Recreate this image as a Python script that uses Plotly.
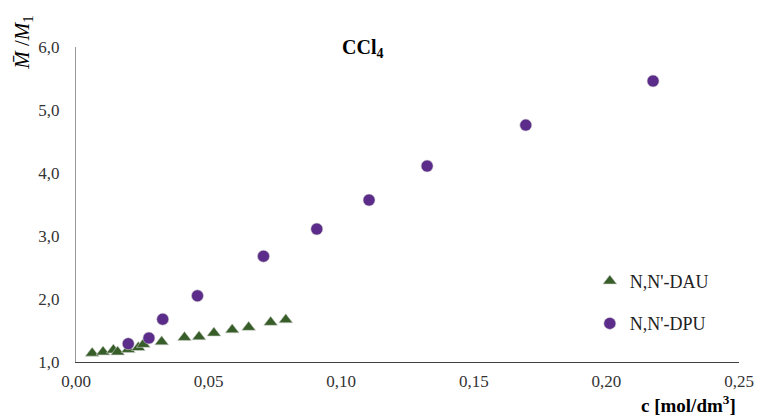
import plotly.graph_objects as go

dau_c = [0.0061, 0.0102, 0.0141, 0.0157, 0.0197, 0.0235, 0.0254, 0.0323, 0.0409,
         0.0464, 0.0520, 0.0589, 0.0651, 0.0734, 0.0791]
dau_m = [1.14, 1.16, 1.19, 1.16, 1.20, 1.23, 1.28, 1.32, 1.39,
         1.40, 1.46, 1.51, 1.55, 1.63, 1.67]
dpu_c = [0.0197, 0.0275, 0.0327, 0.0458, 0.0707, 0.0908, 0.1105, 0.1324, 0.1696, 0.2176]
dpu_m = [1.29, 1.38, 1.68, 2.05, 2.68, 3.11, 3.57, 4.11, 4.76, 5.46]

serif = "Liberation Serif"

fig = go.Figure()
fig.add_trace(go.Scatter(x=dau_c, y=dau_m, mode="markers", name="N,N'-DAU",
                         legendgroup="a",
                         marker=dict(symbol="triangle-up", size=12, color="#375E28",
                                     line=dict(width=0.6, color="#D0D0D0"))))
fig.add_trace(go.Scatter(x=dpu_c, y=dpu_m, mode="markers", name="N,N'-DPU",
                         legendgroup="b",
                         marker=dict(symbol="circle", size=12, color="#5B2C8A",
                                     line=dict(width=0.6, color="#D0D0D0"))))

fig.update_layout(
    width=766, height=420,
    margin=dict(l=76, r=18, t=47, b=58),
    paper_bgcolor="white", plot_bgcolor="white",
    separators=", ",
    font=dict(family=serif, size=17, color="#333333"),
    xaxis=dict(range=[0, 0.25], dtick=0.05, tickformat=".2f", showgrid=False,
               zeroline=False, showline=True, linecolor="#404040", linewidth=1.3,
               ticks="", ticklabelstandoff=3,
               tickfont=dict(family=serif, size=17, color="#333333")),
    yaxis=dict(range=[1, 6], dtick=1, tickformat=".1f", showgrid=False,
               zeroline=False, showline=True, linecolor="#999999", linewidth=1.3,
               ticks="", ticklabelstandoff=12,
               tickfont=dict(family=serif, size=17, color="#333333")),
    legend=dict(x=0.775, y=0.315, xanchor="left", yanchor="top",
                traceorder="grouped", tracegroupgap=16,
                font=dict(family=serif, size=18, color="#222222"),
                bgcolor="rgba(0,0,0,0)", itemwidth=30),
    showlegend=True,
)

fig.add_annotation(text="<b>CCl<sub>4</sub></b>", xref="paper", yref="paper",
                   x=(366 - 76) / 672, y=1 + (47 - 48) / 315, showarrow=False,
                   xanchor="center", yanchor="middle",
                   font=dict(family=serif, size=20, color="#000000"))
fig.add_annotation(text="<i>M\u0304</i> /<i>M</i><sub>1</sub>", xref="paper", yref="paper",
                   x=-(76 - 22) / 672, y=1 + (47 - 43) / 315, textangle=-90,
                   xanchor="center", yanchor="middle",
                   showarrow=False, font=dict(family=serif, size=21, color="#000000"))
fig.add_annotation(text="<b>c [mol/dm<sup>3</sup>]</b>", xref="paper", yref="paper",
                   x=(697 - 76) / 672, y=-(404 - 362) / 315, showarrow=False,
                   xanchor="center", yanchor="middle",
                   font=dict(family=serif, size=19, color="#000000"))

fig.write_html("out.html")
